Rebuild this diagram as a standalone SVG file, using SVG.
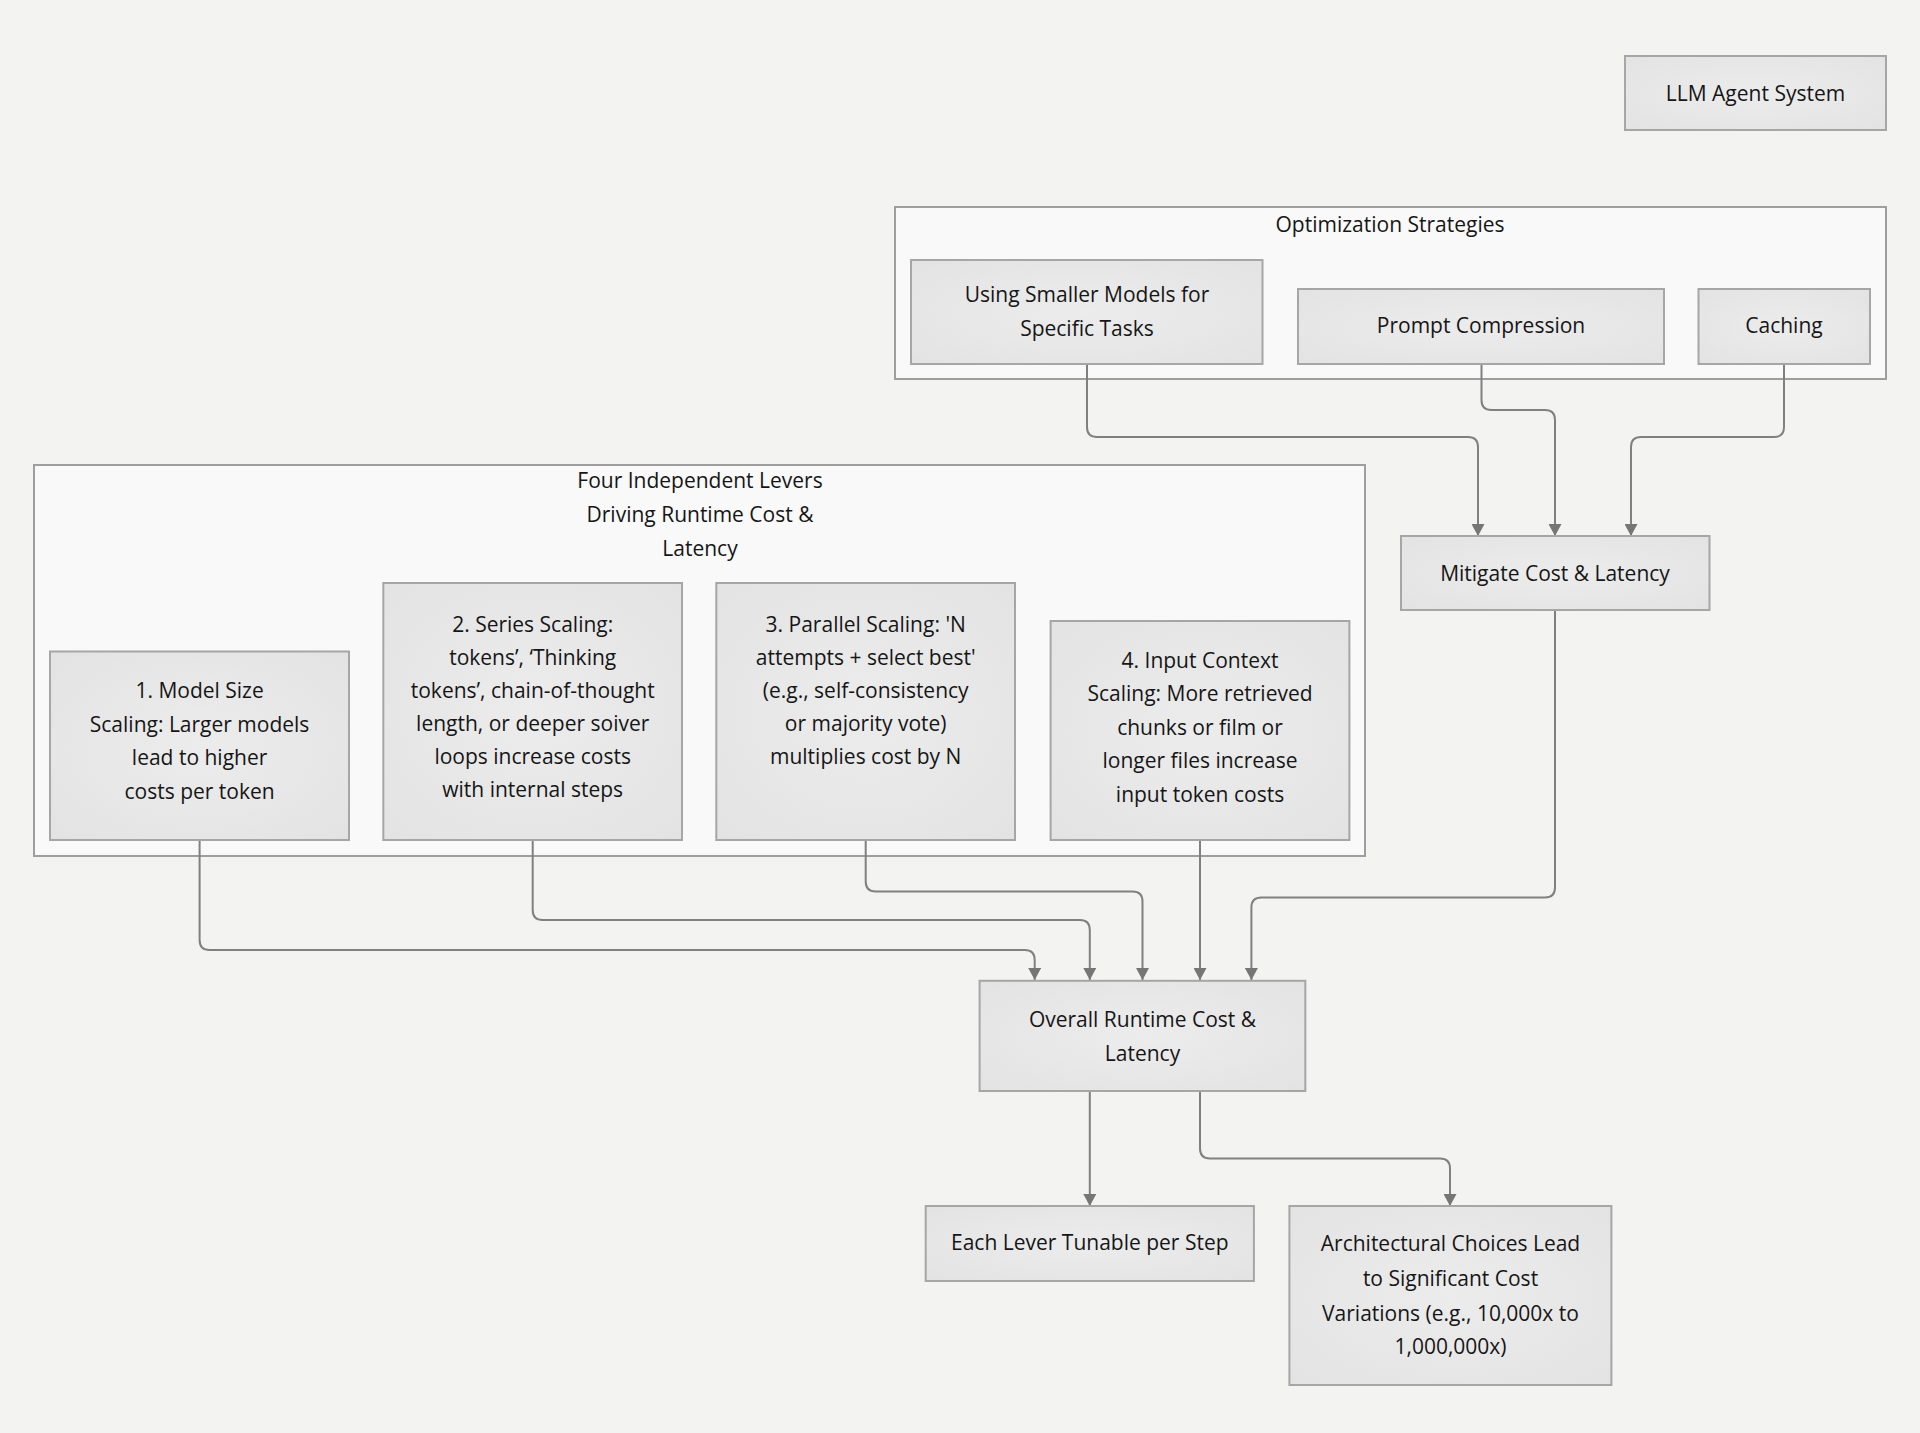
<svg xmlns="http://www.w3.org/2000/svg" width="1920" height="1433" viewBox="0 0 1920 1433">
<defs>
<style>
.bg{fill:#f3f3f2}
.cluster{fill:#f9f9f9;stroke:#9e9e9e;stroke-width:2}
.box{fill:url(#boxg);stroke:#a6a6a6;stroke-width:2}
.t{font-family:"Open Sans","Noto Sans","Liberation Sans",sans-serif;font-size:21px;fill:#161616;text-anchor:middle}
.edge{fill:none;stroke:#808080;stroke-width:2;marker-end:url(#arr)}
</style>
<radialGradient id="boxg" cx="50%" cy="50%" r="70%">
<stop offset="0" stop-color="#ececec"/>
<stop offset="1" stop-color="#e3e3e3"/>
</radialGradient>
<marker id="arr" viewBox="0 0 12 13" refX="12" refY="6.5" markerWidth="12" markerHeight="13" markerUnits="userSpaceOnUse" orient="auto">
<path d="M0,0 L12,6.5 L0,13 z" fill="#767676"/>
</marker>
</defs>
<rect class="bg" x="0" y="0" width="1920" height="1433"/>

<g id="cluster-optimization">
<rect class="cluster" x="895" y="207" width="991" height="172"/>
<text class="t" x="1390" y="232">Optimization Strategies</text>
</g>
<g id="cluster-levers">
<rect class="cluster" x="34" y="465" width="1331" height="391"/>
<text class="t" x="700" y="488">Four Independent Levers</text>
<text class="t" x="700" y="522">Driving Runtime Cost &amp;</text>
<text class="t" x="700" y="556">Latency</text>
</g>

<g id="connectors">
<path class="edge" d="M1087,364 V427 Q1087,437 1097,437 H1468 Q1478,437 1478,447 V536"/>
<path class="edge" d="M1481.5,364 V400 Q1481.5,410 1491.5,410 H1545 Q1555,410 1555,420 V536"/>
<path class="edge" d="M1784,364 V427 Q1784,437 1774,437 H1641 Q1631,437 1631,447 V536"/>
<path class="edge" d="M1555,610 V887.6 Q1555,897.6 1545,897.6 H1261.4 Q1251.4,897.6 1251.4,907.6 V980"/>
<path class="edge" d="M199.6,840 V940 Q199.6,950 209.6,950 H1024.7 Q1034.7,950 1034.7,960 V980"/>
<path class="edge" d="M532.7,840 V910 Q532.7,920 542.7,920 H1079.8 Q1089.8,920 1089.8,930 V980"/>
<path class="edge" d="M865.7,840 V881.5 Q865.7,891.5 875.7,891.5 H1132.5 Q1142.5,891.5 1142.5,901.5 V980"/>
<path class="edge" d="M1200,840 V980"/>
<path class="edge" d="M1089.8,1091 V1206"/>
<path class="edge" d="M1200,1091 V1148.4 Q1200,1158.4 1210,1158.4 H1440 Q1450,1158.4 1450,1168.4 V1206"/>
</g>

<g id="llm-agent-system">
<rect class="box" x="1625" y="56" width="261" height="74"/>
<text class="t" x="1755.5" y="101">LLM Agent System</text>
</g>
<g id="using-smaller-models">
<rect class="box" x="911" y="260" width="351.5" height="104"/>
<text class="t" x="1087" y="302">Using Smaller Models for</text>
<text class="t" x="1087" y="336">Specific Tasks</text>
</g>
<g id="prompt-compression">
<rect class="box" x="1298" y="289" width="366" height="75"/>
<text class="t" x="1481" y="333">Prompt Compression</text>
</g>
<g id="caching">
<rect class="box" x="1698.5" y="289" width="171.5" height="75"/>
<text class="t" x="1784" y="333">Caching</text>
</g>
<g id="mitigate">
<rect class="box" x="1401" y="536" width="308.5" height="74"/>
<text class="t" x="1555" y="581">Mitigate Cost &amp; Latency</text>
</g>
<g id="lever-1">
<rect class="box" x="50" y="651.5" width="299" height="188.5"/>
<text class="t" x="199.6" y="698">1. Model Size</text>
<text class="t" x="199.6" y="731.5">Scaling: Larger models</text>
<text class="t" x="199.6" y="765">lead to higher</text>
<text class="t" x="199.6" y="798.5">costs per token</text>
</g>
<g id="lever-2">
<rect class="box" x="383.3" y="583" width="298.7" height="257"/>
<text class="t" x="532.7" y="632">2. Series Scaling:</text>
<text class="t" x="532.7" y="665">tokens’, ‘Thinking</text>
<text class="t" x="532.7" y="698">tokens’, chain-of-thought</text>
<text class="t" x="532.7" y="731">length, or deeper soiver</text>
<text class="t" x="532.7" y="764">loops increase costs</text>
<text class="t" x="532.7" y="797">with internal steps</text>
</g>
<g id="lever-3">
<rect class="box" x="716.3" y="583" width="298.7" height="257"/>
<text class="t" x="865.7" y="632">3. Parallel Scaling: 'N</text>
<text class="t" x="865.7" y="665">attempts + select best'</text>
<text class="t" x="865.7" y="698">(e.g., self-consistency</text>
<text class="t" x="865.7" y="731">or majority vote)</text>
<text class="t" x="865.7" y="764">multiplies cost by N</text>
</g>
<g id="lever-4">
<rect class="box" x="1050.6" y="621" width="298.8" height="219"/>
<text class="t" x="1200" y="668">4. Input Context</text>
<text class="t" x="1200" y="701">Scaling: More retrieved</text>
<text class="t" x="1200" y="735">chunks or film or</text>
<text class="t" x="1200" y="768">longer files increase</text>
<text class="t" x="1200" y="802">input token costs</text>
</g>
<g id="overall">
<rect class="box" x="979.6" y="980.8" width="325.7" height="110.2"/>
<text class="t" x="1142.5" y="1027">Overall Runtime Cost &amp;</text>
<text class="t" x="1142.5" y="1061">Latency</text>
</g>
<g id="each-lever">
<rect class="box" x="925.7" y="1206" width="328.2" height="75"/>
<text class="t" x="1089.8" y="1250">Each Lever Tunable per Step</text>
</g>
<g id="architectural">
<rect class="box" x="1289.4" y="1206" width="322" height="179"/>
<text class="t" x="1450.5" y="1251">Architectural Choices Lead</text>
<text class="t" x="1450.5" y="1286">to Significant Cost</text>
<text class="t" x="1450.5" y="1321">Variations (e.g., 10,000x to</text>
<text class="t" x="1450.5" y="1354">1,000,000x)</text>
</g>
</svg>
